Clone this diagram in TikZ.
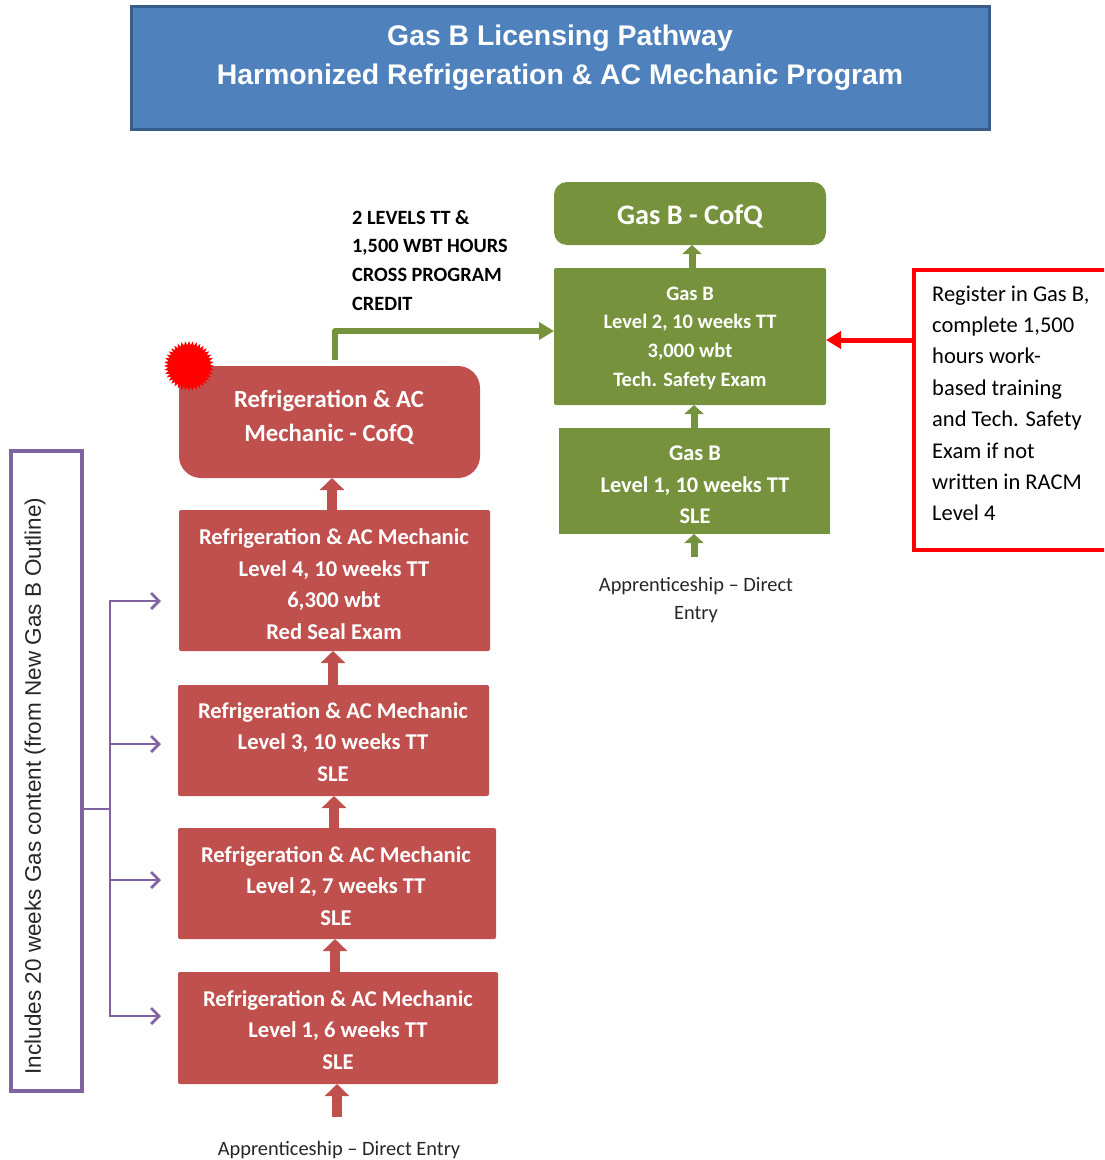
\documentclass[tikz,border=0pt]{standalone}
\usepackage{fontspec}
\setmainfont{Carlito}
\newfontfamily\arialf{Liberation Sans}
\usetikzlibrary{arrows.meta,shapes.geometric,calc}
\definecolor{titleblue}{HTML}{4F81BD}
\definecolor{titleedge}{HTML}{385D8A}
\definecolor{racred}{HTML}{C0504D}
\definecolor{gasgreen}{HTML}{76923C}
\definecolor{purp}{HTML}{8064A2}
\tikzset{
  boxbase/.style={inner sep=0pt,outer sep=0pt},
  redbox/.style={boxbase,fill=racred},
  greenbox/.style={boxbase,fill=gasgreen},
  boxtext/.style={text=white,align=center,inner sep=0pt,font=\bfseries\fontsize{22.6}{31.5}\selectfont},
  redarrow/.style={draw=racred,line width=10pt,-{Triangle[length=12pt,width=24pt]}},
  greenarrow/.style={draw=gasgreen,line width=7pt,-{Triangle[length=9pt,width=19pt]}},
  bluntlabel/.style={inner sep=0pt,align=left,text=black},
  purpline/.style={draw=purp,line width=2.8pt},
  purparrow/.style={purpline,-{Straight Barb[length=8pt,width=16pt,line width=2.8pt]}}
}
\newcommand{\bx}[6]{\node[#6,minimum width={(#4)-(#2)},minimum height={(#5)-(#3)},rectangle] (#1) at ({((#2)+(#4))/2},{((#3)+(#5))/2}) {};}
\begin{document}
\begin{tikzpicture}[x=1pt,y=-1pt]
\useasboundingbox (0,0) rectangle (1104,1160);
\clip (0,0) rectangle (1104,1160);
% title
\node[boxbase,rectangle,fill=titleblue,draw=titleedge,line width=3.5pt,minimum width=858pt,minimum height=123pt] (title) at (560.5,68) {};
\node[text=white,align=center,inner sep=0pt,font=\arialf\bfseries\fontsize{28.4}{39}\selectfont] (titlet) at (560,58) {Gas B Licensing Pathway\\Harmonized Refrigeration \& AC Mechanic Program};
% green boxes
\bx{gcq}{554}{182}{826}{245}{greenbox,rounded corners=13pt}
\node[boxtext,font=\bfseries\fontsize{28.3}{32}\selectfont] (gcqt) at (690,216.5) {Gas B - CofQ};
\bx{g2}{554}{268}{826}{405}{greenbox,rounded corners=2pt}
\node[boxtext,font=\bfseries\fontsize{20.5}{28.7}\selectfont] (g2t) at (690,338) {Gas B\\Level 2, 10 weeks TT\\3,000 wbt\\Tech. Safety Exam};
\bx{g1}{559}{428}{830}{534}{greenbox}
\node[boxtext,font=\bfseries\fontsize{22.4}{31.5}\selectfont] (g1t) at (695,485) {Gas B\\Level 1, 10 weeks TT\\SLE};
% red boxes
\bx{rcq}{179}{366}{480}{478}{redbox,rounded corners=22pt}
\node[boxtext,font=\bfseries\fontsize{24.7}{34}\selectfont] (rcqt) at (329,417) {Refrigeration \& AC\\Mechanic - CofQ};
\bx{r4}{179}{510}{490}{651}{redbox,rounded corners=2pt}
\node[boxtext] (r4t) at (334,584) {Refrigeration \& AC Mechanic\\Level 4, 10 weeks TT\\6,300 wbt\\Red Seal Exam};
\bx{r3}{178}{685}{489}{796}{redbox,rounded corners=2pt}
\node[boxtext] (r3t) at (333,742) {Refrigeration \& AC Mechanic\\Level 3, 10 weeks TT\\SLE};
\bx{r2}{178}{828}{496}{939}{redbox,rounded corners=2pt}
\node[boxtext] (r2t) at (336,886) {Refrigeration \& AC Mechanic\\Level 2, 7 weeks TT\\SLE};
\bx{r1}{178}{972}{498}{1084}{redbox,rounded corners=2pt}
\node[boxtext] (r1t) at (338,1030) {Refrigeration \& AC Mechanic\\Level 1, 6 weeks TT\\SLE};
% burst
\node[star,star points=40,star point ratio=1.2,fill=red,inner sep=0pt,minimum size=50pt] (burst) at (189,366) {};
% purple box
\bx{pb}{11}{451}{82}{1091}{boxbase,draw=purp,line width=4pt}
\node[rotate=90,inner sep=0pt,font=\arialf\fontsize{22.5}{25}\selectfont,text=black!85] (pbt) at (35,786) {Includes 20 weeks Gas content (from New Gas B Outline)};
% red note
\node[boxbase,rectangle,draw=red,line width=4.5pt,minimum width=196pt,minimum height=280pt] (note) at (1012,410) {};
\node[bluntlabel,anchor=north west,font=\fontsize{22.5}{31.4}\selectfont] (notet) at (932,285.5) {Register in Gas B,\\complete 1,500\\hours work-\\based training\\and Tech. Safety\\Exam if not\\written in RACM\\Level 4};
% label
\node[bluntlabel,anchor=north west,font=\bfseries\fontsize{20.3}{28.7}\selectfont] (xlabel) at (352,210) {2 LEVELS TT \&\\1,500 WBT HOURS\\CROSS PROGRAM\\CREDIT};
% apprenticeship
\node[inner sep=0pt,align=center,font=\fontsize{20.4}{28.5}\selectfont,text=black!85] (appg) at (696,600) {Apprenticeship – Direct\\Entry};
\node[inner sep=0pt,font=\fontsize{20.4}{28.5}\selectfont,text=black!85] (appr) at (339,1150) {Apprenticeship – Direct Entry};
% connectors: red
\draw[redarrow] ([xshift=-3pt]r1.north) -- ([xshift=-2pt]r2.south);
\draw[redarrow] ([xshift=-3pt]r2.north) -- ([xshift=0.5pt]r3.south);
\draw[redarrow] ([xshift=-0.5pt]r3.north) -- ([xshift=-1.5pt]r4.south);
\draw[redarrow] ([xshift=-2.5pt]r4.north) -- ([xshift=2.5pt]rcq.south);
\coordinate (rstart) at (337,1117);
\draw[redarrow] (rstart) -- (rstart |- r1.south);
% connectors: green
\coordinate (gstart) at (694,557);
\draw[greenarrow] (gstart) -- (gstart |- g1.south);
\draw[greenarrow] ([xshift=-0.5pt]g1.north) -- ([xshift=4pt]g2.south);
\draw[greenarrow] ([xshift=2pt]g2.north) -- ([xshift=2pt]gcq.south);
% cross credit
\coordinate (xstart) at (335,360);
\coordinate (xbend) at (335,331);
\draw[draw=gasgreen,line width=6pt,line join=round,-{Triangle[length=15pt,width=17pt]}] (xstart) -- (xbend) -- (g2.west |- xbend);
% note arrow
\coordinate (nlevel) at (900,340);
\draw[draw=red,line width=5pt,-{Triangle[length=15pt,width=17pt]}] (note.west |- nlevel) -- (g2.east |- nlevel);
% purple tree
\coordinate (tree) at (110,809);
\coordinate (a4) at (161,601);
\coordinate (a3) at (161,744);
\coordinate (a2) at (161,880);
\coordinate (a1) at (161,1016);
\draw[purpline] (pb.east |- tree) -- (tree);
\draw[purparrow] (tree) |- (a4);
\draw[purparrow] (tree) |- (a3);
\draw[purparrow] (tree) |- (a2);
\draw[purparrow] (tree) |- (a1);
\end{tikzpicture}
\end{document}
